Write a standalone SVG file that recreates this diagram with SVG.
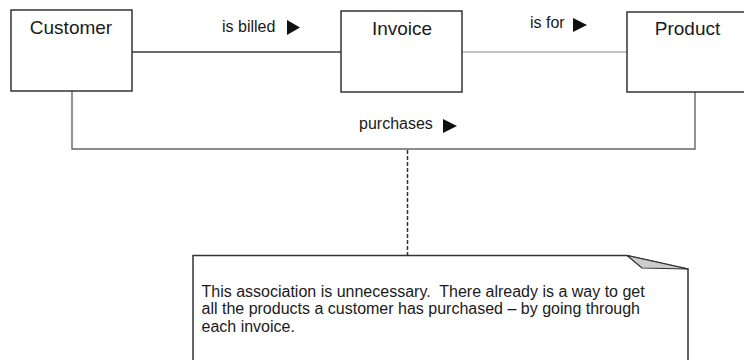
<svg xmlns="http://www.w3.org/2000/svg" width="744" height="360" viewBox="0 0 744 360">
  <defs>
    <style>
      .box { fill: #ffffff; stroke: #333333; stroke-width: 1.5; }
      .title { font-family: "Liberation Sans", Arial, sans-serif; font-size: 19px; fill: #1a1a1a; text-anchor: middle; }
      .label { font-family: "Liberation Sans", Arial, sans-serif; font-size: 16px; fill: #1a1a1a; }
      .dir { fill: #111111; }
      .link { fill: none; stroke: #3a3a3a; stroke-width: 1.5; }
      .link-light { fill: none; stroke: #8a8a8a; stroke-width: 1.2; }
      .link-mid { fill: none; stroke: #666666; stroke-width: 1.4; }
      .anchor { fill: none; stroke: #333333; stroke-width: 1.5; stroke-dasharray: 4 2; }
      .note { fill: #ffffff; stroke: #333333; stroke-width: 1.5; }
      .fold { fill: #cccccc; stroke: #333333; stroke-width: 1.2; stroke-linejoin: round; }
      .notetext { font-family: "Liberation Sans", Arial, sans-serif; font-size: 16px; fill: #1a1a1a; white-space: pre; }
    </style>
  </defs>

  <rect width="744" height="360" fill="#ffffff"/>

  <!-- associations between classes -->
  <g id="connectors">
    <line class="link" x1="132" y1="52" x2="341" y2="52"/>
    <line class="link-light" x1="462" y1="52" x2="627" y2="52"/>
    <polyline class="link-mid" points="72,91 72,149 695,149 695,92"/>
    <line class="anchor" x1="407.5" y1="150" x2="407.5" y2="256"/>

    <text class="label" x="222" y="32">is billed</text>
    <polygon class="dir" points="287,20 300,27.5 287,35"/>

    <text class="label" x="530" y="28">is for</text>
    <polygon class="dir" points="573,18 587,25 573,32"/>

    <text class="label" x="359" y="129">purchases</text>
    <polygon class="dir" points="443,119 457,126 443,133"/>
  </g>

  <g id="customer">
    <rect class="box" x="11" y="10" width="121" height="81"/>
    <text class="title" x="71" y="34">Customer</text>
  </g>

  <g id="invoice">
    <rect class="box" x="341" y="11" width="121" height="81"/>
    <text class="title" x="402" y="35">Invoice</text>
  </g>

  <g id="product">
    <rect class="box" x="627" y="12" width="122" height="80"/>
    <text class="title" x="687.5" y="35">Product</text>
  </g>

  <!-- comment note with folded corner -->
  <g id="note">
    <path class="note" d="M193,366 L193,255.5 L627,255.5 L688,269 L688,366 Z"/>
    <polygon class="fold" points="627,255.5 642,268 688,269"/>
    <text class="notetext" x="201.5" y="297" xml:space="preserve">This association is unnecessary.  There already is a way to get</text>
    <text class="notetext" x="201.5" y="314">all the products a customer has purchased – by going through</text>
    <text class="notetext" x="201.5" y="332">each invoice.</text>
  </g>
</svg>
